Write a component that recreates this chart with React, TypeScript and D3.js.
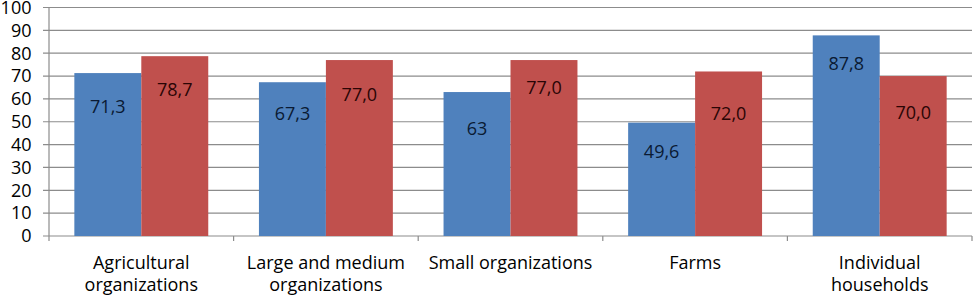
import React from "react";
import * as d3 from "d3";

// ---- data ----
const categories: string[][] = [
  ["Agricultural", "organizations"],
  ["Large and medium", "organizations"],
  ["Small organizations"],
  ["Farms"],
  ["Individual", "households"],
];
const seriesBlue: number[] = [71.3, 67.3, 63, 49.6, 87.8];
const seriesRed: number[] = [78.7, 77.0, 77.0, 72.0, 70.0];
const blueLabels: string[] = ["71,3", "67,3", "63", "49,6", "87,8"];
const redLabels: string[] = ["78,7", "77,0", "77,0", "72,0", "70,0"];
const yTicks: number[] = [0, 10, 20, 30, 40, 50, 60, 70, 80, 90, 100];

// ---- layout (label placement offsets below bar top, px) ----
const blueLabelOffsets = [34, 31, 37, 29, 28];
const redLabelOffsets = [34, 35, 28, 42, 37];

const W = 973;
const H = 298;
const left = 49;
const right = 972;
const top = 7.5;
const bottom = 236;
const FONT = "'Open Sans', sans-serif";
const FS = 18;
const BLUE = "#4F81BD";
const RED = "#C0504D";
const GRID = "#8c8c8c";

export default function App() {
  const x = d3
    .scaleBand<number>()
    .domain(d3.range(categories.length))
    .range([left, right])
    .paddingInner(0)
    .paddingOuter(0);
  const inner = d3
    .scaleBand<number>()
    .domain([0, 1])
    .range([0, x.bandwidth()])
    .paddingOuter(0.3785)
    .paddingInner(0);
  const y = d3.scaleLinear().domain([0, 100]).range([bottom, top]);

  const series = [
    { vals: seriesBlue, labels: blueLabels, offs: blueLabelOffsets, color: BLUE },
    { vals: seriesRed, labels: redLabels, offs: redLabelOffsets, color: RED },
  ];

  return (
    <svg
      width={W}
      height={H}
      style={{ position: "absolute", left: 0, top: 0, background: "#fff" }}
    >
      {/* gridlines + y ticks */}
      {yTicks.map((t) => (
        <g key={t}>
          <line
            x1={left - 6}
            x2={right}
            y1={y(t)}
            y2={y(t)}
            stroke={GRID}
            strokeWidth={1.2}
          />
          <text
            x={31.5}
            y={y(t) + 6.3}
            textAnchor="end"
            fontFamily={FONT}
            fontSize={FS}
            fill="#000"
          >
            {t}
          </text>
        </g>
      ))}
      {/* y axis */}
      <line x1={left} x2={left} y1={top} y2={bottom} stroke={GRID} strokeWidth={1.2} />
      {/* x category ticks */}
      {d3.range(categories.length + 1).map((i) => {
        const xx = i < categories.length ? (x(i) as number) : right;
        return (
          <line
            key={i}
            x1={xx}
            x2={xx}
            y1={bottom}
            y2={bottom + 5}
            stroke={GRID}
            strokeWidth={1.2}
          />
        );
      })}
      {/* bars */}
      {series.map((s, si) =>
        s.vals.map((v, ci) => {
          const bx = (x(ci) as number) + (inner(si) as number);
          return (
            <rect
              key={`${si}-${ci}`}
              x={bx}
              y={y(v)}
              width={inner.bandwidth()}
              height={bottom - y(v)}
              fill={s.color}
            />
          );
        })
      )}
      {/* value labels */}
      {series.map((s, si) =>
        s.vals.map((v, ci) => {
          const cx = (x(ci) as number) + (inner(si) as number) + inner.bandwidth() / 2;
          return (
            <text
              key={`l-${si}-${ci}`}
              x={cx}
              y={y(v) + s.offs[ci] + 6.3}
              textAnchor="middle"
              fontFamily={FONT}
              fontSize={FS}
              fill={si === 0 ? "#0a1a33" : "#2a0505"}
            >
              {s.labels[ci]}
            </text>
          );
        })
      )}
      {/* category labels */}
      {categories.map((lines, ci) => {
        const cx = (x(ci) as number) + x.bandwidth() / 2;
        return (
          <text
            key={`c-${ci}`}
            x={cx}
            textAnchor="middle"
            fontFamily={FONT}
            fontSize={FS}
            fill="#000"
          >
            {lines.map((ln, li) => (
              <tspan key={li} x={cx} y={269 + li * 22}>
                {ln}
              </tspan>
            ))}
          </text>
        );
      })}
    </svg>
  );
}
